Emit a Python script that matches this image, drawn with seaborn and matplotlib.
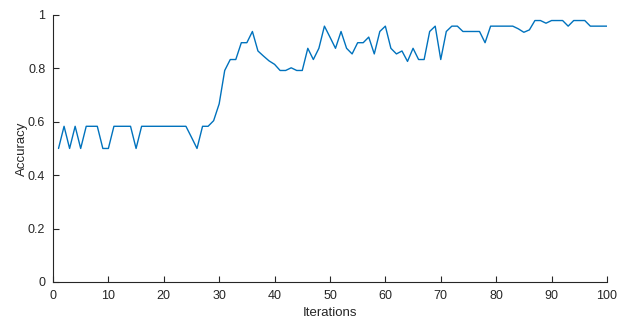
import numpy as np
import matplotlib
matplotlib.use('Agg')
import matplotlib.pyplot as plt
import seaborn as sns

# Accuracy per training iteration
iterations = list(range(1, 101))
accuracy = [
    0.5, 0.583, 0.5, 0.583, 0.5, 0.583, 0.583, 0.583, 0.5, 0.5,
    0.583, 0.583, 0.583, 0.583, 0.5, 0.583, 0.583, 0.583, 0.583, 0.583,
    0.583, 0.583, 0.583, 0.583, 0.542, 0.5, 0.583, 0.583, 0.604, 0.667,
    0.792, 0.833, 0.833, 0.896, 0.896, 0.938, 0.865, 0.846, 0.828, 0.815,
    0.792, 0.792, 0.802, 0.792, 0.792, 0.875, 0.833, 0.875, 0.958, 0.917,
    0.875, 0.938, 0.875, 0.854, 0.896, 0.896, 0.917, 0.854, 0.938, 0.958,
    0.875, 0.854, 0.865, 0.826, 0.875, 0.833, 0.833, 0.938, 0.958, 0.833,
    0.938, 0.958, 0.958, 0.938, 0.938, 0.938, 0.938, 0.896, 0.958, 0.958,
    0.958, 0.958, 0.958, 0.948, 0.935, 0.944, 0.979, 0.979, 0.969, 0.979,
    0.979, 0.979, 0.958, 0.979, 0.979, 0.979, 0.958, 0.958, 0.958, 0.958,
]
x_ticks = list(range(0, 101, 10))
y_ticks = [0, 0.2, 0.4, 0.6, 0.8, 1]
y_tick_labels = ['0', '0.2', '0.4', '0.6', '0.8', '1']

sns.set_theme(style='white')
plt.rcParams['font.family'] = ['Liberation Sans', 'DejaVu Sans']

dark = '#262626'
fig = plt.figure(figsize=(6.27, 3.21), dpi=100)
ax = fig.add_axes([0.0845, 0.1215, 0.8835, 0.832])

sns.lineplot(x=iterations, y=accuracy, ax=ax, color='#0072BD', linewidth=1.0)

ax.set_xlim(0, 100)
ax.set_ylim(0, 1)
ax.set_xticks(x_ticks)
ax.set_yticks(y_ticks)
ax.set_yticklabels(y_tick_labels)
ax.set_xlabel('Iterations', fontsize=9.5, color=dark)
ax.set_ylabel('Accuracy', fontsize=9.5, color=dark)
ax.xaxis.set_label_coords(0.5, -0.093)
ax.yaxis.set_label_coords(-0.045, 0.5)

for side in ['top', 'right']:
    ax.spines[side].set_visible(False)
for side in ['left', 'bottom']:
    ax.spines[side].set_color(dark)
    ax.spines[side].set_linewidth(0.8)
ax.tick_params(direction='in', length=4, width=0.8, colors=dark,
               labelsize=9, left=True, bottom=True)
ax.tick_params(axis='x', pad=6)
ax.tick_params(axis='y', pad=5.5)

fig.savefig('out.png', dpi=100)
